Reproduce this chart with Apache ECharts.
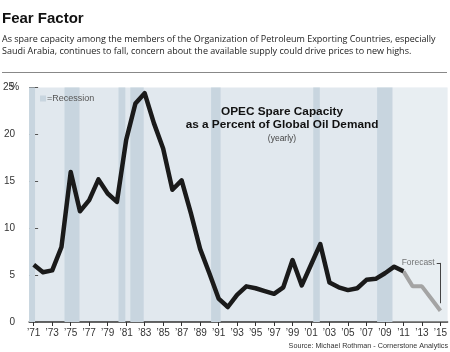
<!DOCTYPE html>
<html lang="en">
<head>
    <meta charset="UTF-8"/>
    <title>Fear Factor</title>
    <script src="https://cdn.jsdelivr.net/npm/echarts@6/dist/echarts.min.js"></script>
    <style>
        body {
            margin: 0;
            background-color: #fff;
        }

        #chart {
            width: 450px;
            height: 352px;
        }
    </style>
</head>
<body>
<div id="chart"></div>

<script>
    // OPEC spare capacity, % of global oil demand
    const actualYears = [1971, 1972, 1973, 1974, 1975, 1976, 1977, 1978, 1979, 1980,
        1981, 1982, 1983, 1984, 1985, 1986, 1987, 1988, 1989, 1990,
        1991, 1992, 1993, 1994, 1995, 1996, 1997, 1998, 1999, 2000,
        2001, 2002, 2003, 2004, 2005, 2006, 2007, 2008, 2009, 2010, 2011];
    const actualValues = [6.1, 5.3, 5.5, 8.0, 16.0, 11.8, 13.0, 15.2, 13.7, 12.8,
        19.4, 23.3, 24.4, 21.2, 18.5, 14.1, 15.1, 11.6, 7.8, 5.2,
        2.5, 1.6, 2.9, 3.8, 3.6, 3.3, 3.0, 3.7, 6.6, 3.9,
        6.1, 8.3, 4.2, 3.7, 3.4, 3.6, 4.5, 4.6, 5.2, 5.9, 5.4];

    const forecastYears = [2011, 2012, 2013, 2014, 2015];
    const forecastValues = [5.4, 3.8, 3.8, 2.5, 1.2];

    // recession periods [start, end]
    const recessions = [
        [1970.5, 1971.14], [1974.33, 1975.95], [1980.17, 1980.91], [1981.45, 1982.9],
        [1990.19, 1991.22], [2001.24, 2001.95], [2008.15, 2009.82]
    ];

    const xTicks = [1971, 1973, 1975, 1977, 1979, 1981, 1983, 1985, 1987, 1989, 1991,
        1993, 1995, 1997, 1999, 2001, 2003, 2005, 2007, 2009, 2011, 2013, 2015];
    const yTicks = [0, 5, 10, 15, 20, 25];

    const X_MIN = 1970.5;
    const X_MAX = 2015.77;

    function pairs(xs, ys) {
        return xs.map((x, i) => [x, ys[i]]);
    }

    const chart = echarts.init(document.getElementById('chart'));
    const font = 'Liberation Sans, Arial, sans-serif';

    chart.setOption({
        animation: false,
        textStyle: {fontFamily: font},
        title: [
            {
                text: 'Fear Factor',
                subtext: 'As spare capacity among the members of the Organization of Petroleum Exporting Countries, especially\nSaudi Arabia, continues to fall, concern about the available supply could drive prices to new highs.',
                left: 2,
                top: 11,
                padding: 0,
                itemGap: 7,
                textStyle: {fontSize: 15, fontWeight: 'bold', color: '#111'},
                subtextStyle: {fontSize: 9, fontFamily: 'Open Sans, Noto Sans, sans-serif', color: '#222', lineHeight: 12.4}
            },
            {
                text: 'OPEC Spare Capacity\nas a Percent of Global Oil Demand',
                subtext: '(yearly)',
                left: 282,
                top: 105.5,
                textAlign: 'center',
                padding: 0,
                itemGap: 3,
                textStyle: {fontSize: 11.8, fontWeight: 'bold', color: '#111', lineHeight: 12.6},
                subtextStyle: {fontSize: 8.5, color: '#444'}
            },
            {
                text: 'Source: Michael Rothman - Cornerstone Analytics',
                right: 2,
                top: 343,
                padding: 0,
                textStyle: {fontSize: 7.2, fontWeight: 'normal', color: '#333'}
            }
        ],
        legend: {
            data: ['=Recession'],
            left: 40,
            top: 94,
            padding: 0,
            icon: 'rect',
            itemWidth: 6,
            itemHeight: 6,
            textStyle: {fontSize: 9, color: '#555', padding: [0, 0, 0, -4]}
        },
        graphic: [
            {
                type: 'line',
                shape: {x1: 2, y1: 72.5, x2: 447, y2: 72.5},
                style: {stroke: '#888', lineWidth: 1}
            }
        ],
        grid: {
            left: 24,
            right: 0,
            top: 87.5,
            bottom: 30,
            show: true,
            backgroundColor: '#e1e8ee',
            borderWidth: 0
        },
        xAxis: {
            type: 'value',
            min: X_MIN,
            max: X_MAX,
            axisLine: {show: true, lineStyle: {color: '#333', width: 1.5}},
            axisTick: {show: true, customValues: xTicks, length: 4, lineStyle: {color: '#333'}},
            axisLabel: {
                customValues: xTicks,
                margin: 6,
                fontSize: 10,
                color: '#333',
                formatter: v => '\u2019' + String(v).slice(2)
            },
            splitLine: {show: false}
        },
        yAxis: {
            type: 'value',
            min: 0,
            max: 25,
            interval: 5,
            axisLine: {show: false},
            axisTick: {show: true, inside: true, length: 9, lineStyle: {color: '#555'}},
            axisLabel: {
                customValues: yTicks,
                margin: 14,
                fontSize: 10,
                color: '#333',
                formatter: v => v === 25 ? '25{p|%}' : String(v),
                rich: {p: {width: 1, fontSize: 10, color: '#333', align: 'left'}}
            },
            splitLine: {show: false}
        },
        series: [
            {
                name: '=Recession',
                type: 'line',
                data: [],
                itemStyle: {color: '#c8d5df'},
                markArea: {
                    silent: true,
                    itemStyle: {color: '#c8d5df'},
                    data: recessions.map(r => [{xAxis: r[0]}, {xAxis: r[1]}])
                }
            },
            {
                name: 'Forecast',
                type: 'line',
                data: pairs(forecastYears, forecastValues),
                symbol: 'none',
                lineStyle: {color: '#a4a4a4', width: 4},
                markArea: {
                    silent: true,
                    itemStyle: {color: 'rgba(255,255,255,0.25)'},
                    data: [[{xAxis: 2009.82}, {xAxis: X_MAX}]]
                },
                markLine: {
                    silent: true,
                    symbol: 'none',
                    lineStyle: {color: '#444', width: 1, type: 'solid'},
                    label: {show: false},
                    data: [
                        [{coord: [2014.6, 6.3]}, {coord: [2015, 6.3]}],
                        [{coord: [2015, 6.3]}, {coord: [2015, 2.0]}]
                    ]
                }
            },
            {
                name: 'OPEC Spare Capacity',
                type: 'line',
                data: pairs(actualYears, actualValues),
                symbol: 'none',
                lineStyle: {color: '#1a1a1a', width: 4.5, join: 'round'}
            },
            {
                name: 'ForecastLabel',
                type: 'scatter',
                data: [[2014.6, 6.3]],
                symbolSize: 0,
                silent: true,
                label: {
                    show: true,
                    position: 'left',
                    distance: 2,
                    formatter: 'Forecast',
                    fontSize: 8.5,
                    color: '#555'
                }
            }
        ]
    });
</script>
</body>
</html>
